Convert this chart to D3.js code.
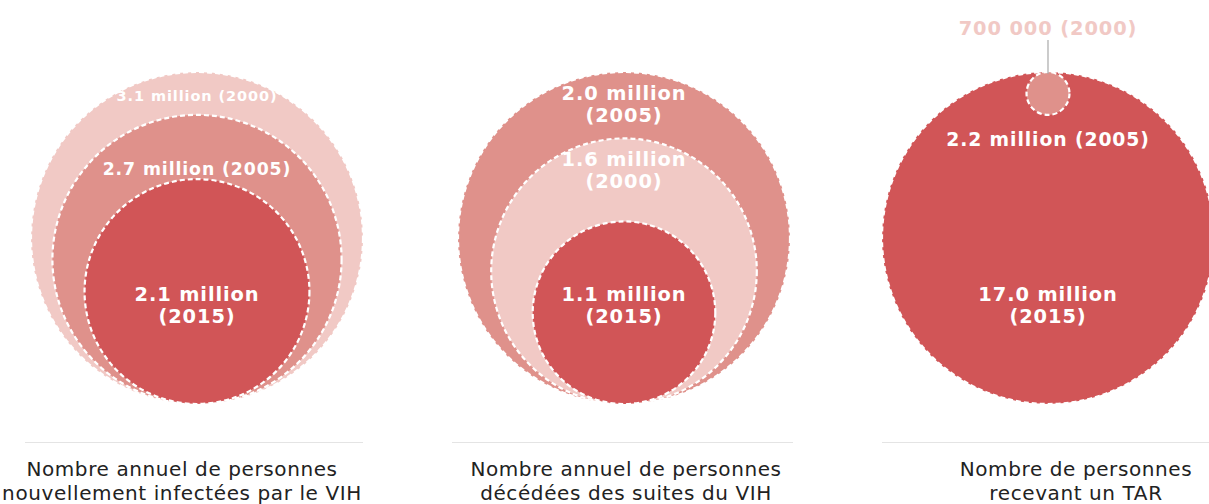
<!DOCTYPE html>
<meta charset="utf-8">
<style>
  body { margin: 0; background: #fff; }
  svg { display: block; }
  .ring { stroke: #fff; stroke-width: 2.2; stroke-dasharray: 5 3; }
  .val { font-family: "DejaVu Sans", Verdana, sans-serif; font-weight: bold; fill: #fff; text-anchor: middle; letter-spacing: 0.9px; }
  .title { font-family: "DejaVu Sans", Verdana, sans-serif; font-size: 20px; fill: #222; text-anchor: middle; letter-spacing: 0.6px; }
  .sep { stroke: #e4e4e4; stroke-width: 1; }
</style>
<body>
<script src="https://d3js.org/d3.v7.min.js"></script>
<script>
// data, one row per panel
var titles = [
  ["Nombre annuel de personnes", "nouvellement infectées par le VIH"],
  ["Nombre annuel de personnes", "décédées des suites du VIH"],
  ["Nombre de personnes", "recevant un TAR"]
];
var years = [[2000, 2005, 2015], [2005, 2000, 2015], [2015, 2000, 2005]];
var values = [[3.1, 2.7, 2.1], [2.0, 1.6, 1.1], [17.0, 0.7, 2.2]];
var labels = [
  [["3.1 million (2000)"], ["2.7 million (2005)"], ["2.1 million", "(2015)"]],
  [["2.0 million", "(2005)"], ["1.6 million", "(2000)"], ["1.1 million", "(2015)"]],
  [["17.0 million", "(2015)"], ["700 000 (2000)"], ["2.2 million (2005)"]]
];

// layout
var width = 1209, height = 504;
var maxR = 166, base = 404;
var centers = [197, 624, 1048];
var titleX = [182, 626, 1076];
var sepX = [[25, 363], [452, 793], [882, 1209]];
// label placement: top of circle / bottom of circle / panel base / absolute y
var labelPos = [
  [{ at: "top", dy: 24, size: 14.5 }, { at: "top", dy: 54, size: 17.3 }, { at: "base", dy: -110, size: 19.4 }],
  [{ at: "top", dy: 21, size: 19.4 }, { at: "top", dy: 21, size: 19.4 }, { at: "base", dy: -110, size: 19.4 }],
  [{ at: "base", dy: -110, size: 19.4 }, { at: "abs", dy: 28, size: 19.4, color: "#f1c9c5", leader: true }, { at: "bottom", dy: 24, size: 18.8 }]
];

var color = d3.scaleOrdinal()
    .domain([2000, 2005, 2015])
    .range(["#f1c9c5", "#df918b", "#d15557"]);

var svg = d3.select("body").append("svg")
    .attr("width", width)
    .attr("height", height);

titles.forEach(function(t, i) {
  var r = d3.scaleLinear().domain([0, d3.max(values[i])]).range([0, maxR]);
  var big = d3.max(values[i]);
  var bigTop = base - 2 * r(big);

  var rows = values[i].map(function(v, j) {
    var rad = r(v);
    // panel 3: small circles sit at the top of the big one
    var cy = (i === 2 && v !== big) ? bigTop + rad : base - rad;
    return { value: v, year: years[i][j], r: rad, cy: cy, lines: labels[i][j], pos: labelPos[i][j] };
  });

  var g = svg.append("g").attr("class", "panel");

  g.selectAll("circle")
      .data(rows)
    .enter().append("circle")
      .attr("class", "ring")
      .attr("cx", centers[i])
      .attr("cy", function(d) { return d.cy; })
      .attr("r", function(d) { return d.r; })
      .style("fill", function(d) { return color(d.year); });

  rows.forEach(function(d) {
    var p = d.pos, y;
    if (p.at === "top") y = d.cy - d.r + p.dy;
    else if (p.at === "bottom") y = d.cy + d.r + p.dy;
    else if (p.at === "base") y = base + p.dy;
    else y = p.dy;

    if (p.leader) {
      g.append("line")
          .attr("x1", centers[i]).attr("x2", centers[i])
          .attr("y1", y + 12).attr("y2", d.cy - d.r + 2)
          .style("stroke", "#a9a9a9").style("stroke-width", 1.2);
    }

    var txt = g.append("text")
        .attr("class", "val")
        .style("font-size", p.size + "px")
        .style("fill", p.color || "#fff");
    d.lines.forEach(function(l, k) {
      txt.append("tspan")
          .attr("x", centers[i])
          .attr("y", y + k * 22)
          .attr("dy", "0.36em")
          .text(l);
    });
  });

  svg.append("line")
      .attr("class", "sep")
      .attr("x1", sepX[i][0]).attr("x2", sepX[i][1])
      .attr("y1", 442.5).attr("y2", 442.5);

  var tt = svg.append("text").attr("class", "title");
  t.forEach(function(l, k) {
    tt.append("tspan")
        .attr("x", titleX[i])
        .attr("y", 476 + k * 24)
        .text(l);
  });
});
</script>
</body>
</html>
